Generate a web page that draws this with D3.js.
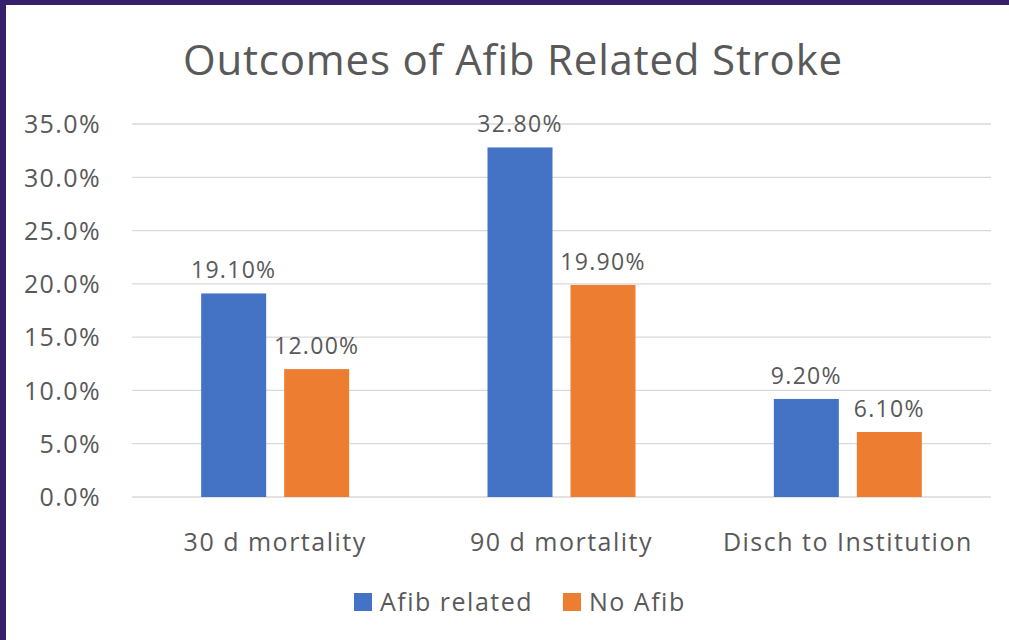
<!DOCTYPE html>
<html>
<head>
<meta charset="utf-8">
<script src="https://d3js.org/d3.v7.min.js"></script>
<style>
  html, body { margin: 0; padding: 0; background: #fff; }
  svg { display: block; }
  text { font-family: "Open Sans", Lato, sans-serif; fill: #595959; }
</style>
</head>
<body>
<div id="chart"></div>
<script>
// chart data
const categories = ["30 d mortality", "90 d mortality", "Disch to Institution"];
const seriesNames = ["Afib related", "No Afib"];
const afibRelated = [19.1, 32.8, 9.2];
const noAfib = [12.0, 19.9, 6.1];
const yTicks = [0, 5, 10, 15, 20, 25, 30, 35];
const colors = ["#4472C4", "#ED7D31"];

const width = 1009, height = 640;
const margin = { top: 124, right: 18, bottom: 143, left: 132 };

const svg = d3.select("#chart").append("svg")
    .attr("width", width)
    .attr("height", height);

// white slide background with purple frame on top/left
svg.append("rect").attr("width", width).attr("height", height).attr("fill", "#fff");
svg.append("rect").attr("x", 0).attr("y", 0).attr("width", width).attr("height", 5).attr("fill", "#35206B");
svg.append("rect").attr("x", 0).attr("y", 0).attr("width", 6).attr("height", height).attr("fill", "#35206B");

const plotW = width - margin.left - margin.right;
const plotH = height - margin.top - margin.bottom;
const g = svg.append("g").attr("transform", `translate(${margin.left},${margin.top})`);

const x = d3.scaleBand().domain(categories).range([0, plotW]);
const y = d3.scaleLinear().domain([0, 35]).range([plotH, 0]);

// gridlines
g.append("g")
    .selectAll("line")
    .data(yTicks)
    .enter().append("line")
    .attr("x1", 0).attr("x2", plotW)
    .attr("y1", d => y(d)).attr("y2", d => y(d))
    .attr("stroke", "#D9D9D9")
    .attr("stroke-width", 1.3);

// y axis labels
const yAxis = d3.axisLeft(y).tickValues(yTicks).tickFormat(d => d.toFixed(1) + "%").tickSize(0).tickPadding(31);
g.append("g").call(yAxis)
    .call(s => s.select(".domain").remove())
    .selectAll("text")
    .style("font-size", "25px")
    .style("letter-spacing", "1.4px")
    .attr("fill", "#595959")
    .attr("dy", "0.35em");

// bars
const barW = 65, gap = 18;
const inner = d3.scaleOrdinal().domain(seriesNames).range([-(barW + gap) / 2, (barW + gap) / 2]);
const rows = categories.map((c, i) => ({ cat: c, vals: [afibRelated[i], noAfib[i]] }));

const groups = g.selectAll(".grp").data(rows).enter().append("g")
    .attr("transform", d => `translate(${x(d.cat) + x.bandwidth() / 2},0)`);

groups.selectAll("rect")
    .data(d => d.vals.map((v, k) => ({ v, k })))
    .enter().append("rect")
    .attr("x", d => inner(seriesNames[d.k]) - barW / 2)
    .attr("y", d => y(d.v))
    .attr("width", barW)
    .attr("height", d => plotH - y(d.v))
    .attr("fill", d => colors[d.k]);

groups.selectAll(".lbl")
    .data(d => d.vals.map((v, k) => ({ v, k })))
    .enter().append("text")
    .attr("x", d => inner(seriesNames[d.k]))
    .attr("y", d => y(d.v) - 15)
    .attr("text-anchor", "middle")
    .style("font-size", "23px")
    .style("letter-spacing", "1.3px")
    .text(d => d.v.toFixed(2) + "%");

// category labels
g.append("g")
    .selectAll("text")
    .data(categories)
    .enter().append("text")
    .attr("x", d => x(d) + x.bandwidth() / 2)
    .attr("y", plotH + 54)
    .attr("text-anchor", "middle")
    .style("font-size", "25px")
    .style("letter-spacing", "1.5px")
    .text(d => d);

// title
svg.append("text")
    .attr("x", 513)
    .attr("y", 75)
    .attr("text-anchor", "middle")
    .style("font-size", "42px")
    .style("letter-spacing", "0.8px")
    .text("Outcomes of Afib Related Stroke");

// legend
const legendX = [354, 563];
const legend = svg.append("g");
seriesNames.forEach((name, i) => {
    legend.append("rect")
        .attr("x", legendX[i]).attr("y", 593)
        .attr("width", 18).attr("height", 18)
        .attr("fill", colors[i]);
    legend.append("text")
        .attr("x", legendX[i] + 26).attr("y", 611)
        .style("font-size", "25px")
        .style("letter-spacing", "1.5px")
        .text(name);
});
</script>
</body>
</html>
